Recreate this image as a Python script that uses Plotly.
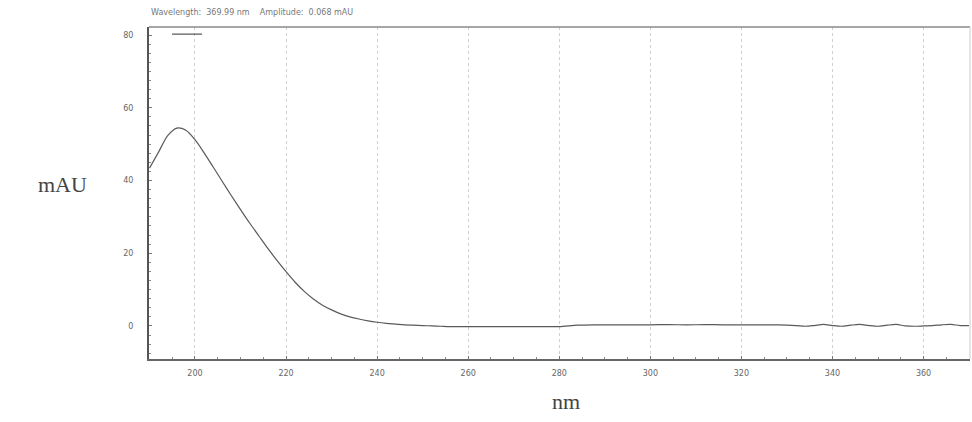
import plotly.graph_objects as go

wavelength_nm = [190, 192, 194, 196, 198, 200, 202, 204, 206, 208, 210, 212, 214, 216, 218,
                 220, 222, 224, 226, 228, 230, 232, 234, 236, 238, 240, 242, 244, 246, 248,
                 250, 252, 254, 256, 260, 264, 268, 272, 276, 280, 284, 288, 292, 296, 300,
                 304, 308, 312, 316, 320, 324, 328, 332, 334, 336, 338, 340, 342, 344, 346,
                 348, 350, 352, 354, 356, 358, 360, 362, 364, 366, 368, 370]
absorbance_mau = [43.4, 47.8, 52.3, 54.4, 53.8, 51.2, 47.6, 43.7, 39.7, 35.8, 32.0, 28.3, 24.8, 21.3, 18.0,
                  14.9, 12.0, 9.5, 7.4, 5.7, 4.4, 3.3, 2.5, 1.9, 1.4, 1.0, 0.7, 0.5, 0.3, 0.2,
                  0.1, 0.0, -0.1, -0.2, -0.2, -0.2, -0.2, -0.2, -0.2, -0.2, 0.2, 0.3, 0.3, 0.3, 0.3,
                  0.35, 0.3, 0.35, 0.3, 0.3, 0.3, 0.3, 0.1, -0.1, 0.1, 0.4, 0.1, -0.1, 0.2, 0.4,
                  0.1, -0.1, 0.2, 0.4, 0.0, -0.1, 0.0, 0.1, 0.3, 0.4, 0.1, 0.07]

x_ticks = [200, 220, 240, 260, 280, 300, 320, 340, 360]
y_ticks = [0, 20, 40, 60, 80]

title_text = "Wavelength:  369.99 nm    Amplitude:  0.068 mAU"

fig = go.Figure()
fig.add_trace(go.Scatter(
    x=wavelength_nm, y=absorbance_mau, mode="lines", name=" ",
    line=dict(color="#5a5a5a", width=1.2, shape="spline", smoothing=0.8),
    showlegend=True,
))

fig.update_layout(
    width=972, height=422,
    margin=dict(l=149, r=2, t=27, b=63),
    paper_bgcolor="white", plot_bgcolor="white",
    font=dict(family="DejaVu Sans", color="#666666", size=8),
    showlegend=True,
    legend=dict(x=0.022, y=1.022, xanchor="left", yanchor="top", bgcolor="rgba(0,0,0,0)",
                font=dict(size=6), itemwidth=30, tracegroupgap=0),
    annotations=[
        dict(text=title_text, xref="paper", yref="paper", x=0, y=1, xanchor="left", yanchor="bottom",
             yshift=8, showarrow=False, font=dict(size=8, color="#777777", family="DejaVu Sans")),
        dict(text="mAU", xref="paper", yref="paper", x=0, y=0.525, xanchor="center", yanchor="middle",
             xshift=-87, showarrow=False, font=dict(size=22, color="#444444", family="Liberation Serif")),
        dict(text="nm", xref="paper", yref="paper", x=0.508, y=0, xanchor="center", yanchor="top",
             yshift=-28, showarrow=False, font=dict(size=22, color="#444444", family="Liberation Serif")),
    ],
)

fig.update_xaxes(
    range=[189.9, 370.2], tickvals=x_ticks, ticktext=[str(v) for v in x_ticks],
    showgrid=True, gridcolor="#cfcfcf", griddash="dot", gridwidth=1,
    showline=True, linecolor="#666666", linewidth=1.5, mirror=False,
    ticks="inside", ticklen=3, tickcolor="#777777",
    minor=dict(ticks="inside", ticklen=2, dtick=5, tickcolor="#888888", showgrid=False),
    ticklabelstandoff=6, zeroline=False,
    tickfont=dict(size=8, color="#666666"),
)
fig.update_yaxes(
    range=[-9.1, 82.2], tickvals=y_ticks, ticktext=[str(v) for v in y_ticks],
    showgrid=False, showline=True, linecolor="#555555", linewidth=2, mirror=False,
    ticks="inside", ticklen=3, tickcolor="#777777",
    minor=dict(ticks="inside", ticklen=2, dtick=2.5, tickcolor="#888888", showgrid=False),
    ticklabelstandoff=12, zeroline=False,
    tickfont=dict(size=8, color="#666666"),
)

# top border line
fig.add_shape(type="line", xref="paper", yref="paper", x0=0, x1=1, y0=1, y1=1,
              line=dict(color="#888888", width=1.5))
fig.add_shape(type="line", xref="paper", yref="paper", x0=1, x1=1, y0=0, y1=1,
              line=dict(color="#cccccc", width=1))

fig.write_html("out.html")
